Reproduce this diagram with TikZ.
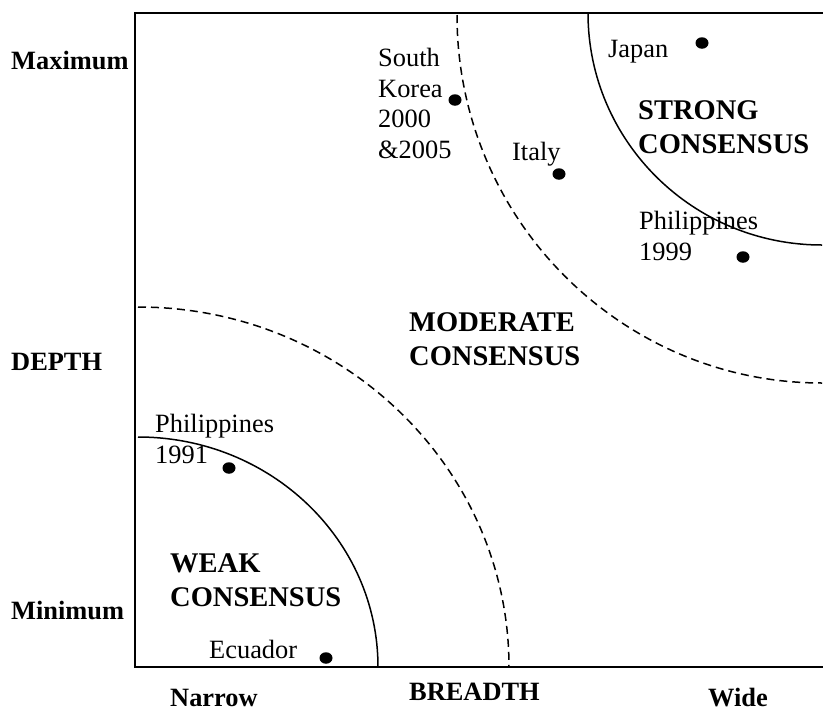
\documentclass[tikz,border=0pt]{standalone}
\usepackage{fontspec}
\setmainfont{Liberation Serif}
\usetikzlibrary{shapes.geometric}
\begin{document}
\begin{tikzpicture}[x=1pt,y=-1pt,
  lbl/.style={anchor=base west, inner sep=0pt, align=left, font=\fontsize{26.4}{30.4}\selectfont},
  axlbl/.style={anchor=base west, inner sep=0pt, align=left, font=\fontsize{26.4}{30.4}\selectfont\bfseries},
  region/.style={anchor=base west, inner sep=0pt, align=left, font=\fontsize{28.5}{33.5}\selectfont\bfseries},
  dot/.style={ellipse, fill=black, inner sep=0pt, minimum width=13pt, minimum height=11.5pt},
  frame/.style={line width=2pt},
  solidarc/.style={line width=1.5pt},
  dasharc/.style={line width=1.5pt, dash pattern=on 8pt off 5pt}
]
\useasboundingbox (0,0) rectangle (823,713);
% frame
\draw[frame] (823,13) -- (135,13) -- (135,667) -- (823,667);
% arcs
\draw[solidarc] (138,437) arc[start angle=-90, end angle=0, x radius=240, y radius=230];
\draw[dasharc] (138,307) arc[start angle=-90, end angle=0, x radius=371, y radius=360];
\draw[dasharc] (457,15) arc[start angle=180, end angle=90, x radius=365, y radius=368];
\draw[solidarc] (588,13) arc[start angle=180, end angle=90, x radius=234, y radius=232];
% axis labels
\node[axlbl] (max) at (11,69) {Maximum};
\node[axlbl] (depth) at (11,370) {DEPTH};
\node[axlbl] (min) at (11,619) {Minimum};
\node[axlbl] (narrow) at (170,706) {Narrow};
\node[axlbl] (breadth) at (409,700) {BREADTH};
\node[axlbl] (wide) at (708,706) {Wide};
% region labels (base = last line)
\node[region] (strong) at (638,153) {STRONG\\CONSENSUS};
\node[region] (moderate) at (409,365) {MODERATE\\CONSENSUS};
\node[region] (weak) at (170,606) {WEAK\\CONSENSUS};
% country labels
\node[lbl] (skl) at (378,158) {South\\Korea\\2000\\\&2005};
\node[lbl] (jpl) at (608,57) {Japan};
\node[lbl] (itl) at (512,160) {Italy};
\node[lbl] (ph99l) at (639,260) {Philippines\\1999};
\node[lbl] (ph91l) at (155,463) {Philippines\\1991};
\node[lbl] (ecl) at (209,658) {Ecuador};
% dots
\node[dot] (sk) at (455,100) {};
\node[dot] (jp) at (702,43) {};
\node[dot] (it) at (559,174) {};
\node[dot] (ph99) at (743,257) {};
\node[dot] (ph91) at (229,468) {};
\node[dot] (ec) at (326,658) {};
\end{tikzpicture}
\end{document}
